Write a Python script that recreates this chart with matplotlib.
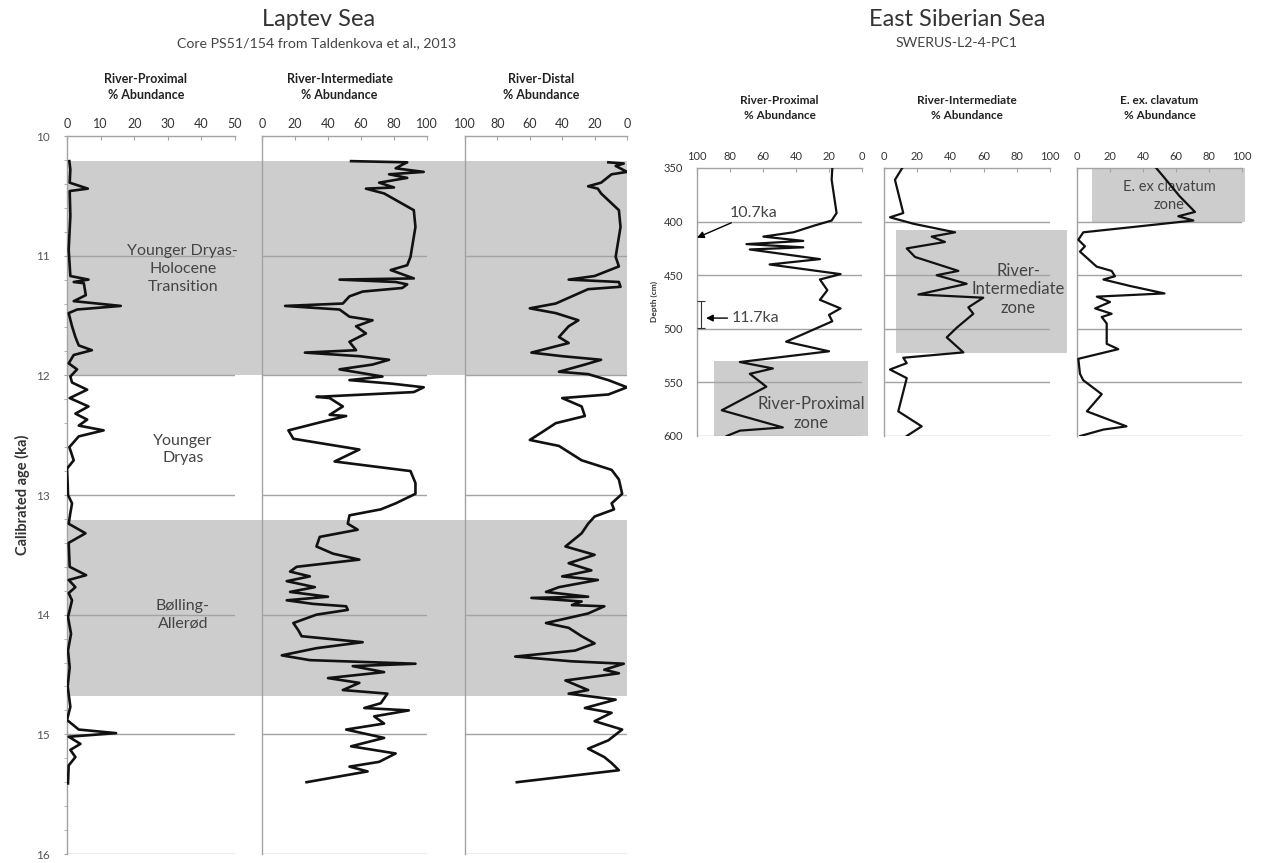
import matplotlib.pyplot as plt
import numpy as np

plt.rcParams['font.family'] = ['Lato', 'DejaVu Sans']

# ---- Laptev Sea, core PS51/154 (age in ka, % abundance) ----
prox_age = [10.21, 10.28, 10.39, 10.44, 10.46, 10.67, 10.95, 11.17, 11.20, 11.22, 11.23, 11.33,
            11.38, 11.42, 11.45, 11.48, 11.59, 11.68, 11.75, 11.79, 11.83, 11.90, 11.95, 12.01,
            12.06, 12.12, 12.19, 12.26, 12.32, 12.37, 12.42, 12.46, 12.51, 12.60, 12.71, 12.78,
            12.90, 13.00, 13.07, 13.15, 13.24, 13.32, 13.40, 13.60, 13.67, 13.71, 13.77, 13.82,
            13.88, 14.02, 14.16, 14.30, 14.44, 14.60, 14.77, 14.88, 14.96, 14.99, 15.02, 15.08,
            15.13, 15.19, 15.26, 15.41]
prox_val = [0.7, 1.0, 0.8, 6.2, 0.8, 1.0, 0.5, 1.0, 6.4, 2.0, 5.0, 5.6,
            2.0, 16.0, 3.0, 0.5, 1.5, 2.5, 3.5, 7.4, 2.0, 0.5, 3.0, 1.0,
            1.5, 6.0, 0.8, 6.4, 2.5, 6.0, 3.5, 10.9, 3.5, 0.7, 2.0, 0.0,
            0.2, 0.3, 1.5, 1.0, 0.5, 5.5, 0.5, 0.8, 5.7, 0.5, 2.5, 0.5,
            1.5, 0.3, 1.2, 0.3, 0.8, 0.2, 1.0, 0.0, 3.5, 14.6, 0.5, 4.0,
            1.0, 2.5, 0.5, 0.3]

inter_age = [10.21, 10.22, 10.24, 10.27, 10.30, 10.32, 10.35, 10.39, 10.43, 10.44, 10.48, 10.62,
             10.76, 11.01, 11.08, 11.12, 11.19, 11.20, 11.22, 11.24, 11.27, 11.30, 11.34, 11.40,
             11.42, 11.45, 11.51, 11.54, 11.59, 11.65, 11.72, 11.79, 11.81, 11.84, 11.87, 11.91,
             11.95, 12.01, 12.04, 12.07, 12.10, 12.14, 12.18, 12.19, 12.26, 12.33, 12.34, 12.39,
             12.46, 12.53, 12.62, 12.72, 12.80, 12.90, 12.99, 13.07, 13.12, 13.17, 13.24, 13.29,
             13.35, 13.43, 13.49, 13.54, 13.60, 13.64, 13.68, 13.72, 13.77, 13.81, 13.85, 13.88,
             13.91, 13.93, 13.96, 14.00, 14.07, 14.13, 14.18, 14.23, 14.28, 14.34, 14.38, 14.41,
             14.43, 14.48, 14.53, 14.57, 14.63, 14.66, 14.74, 14.78, 14.80, 14.85, 14.91, 14.96,
             15.03, 15.10, 15.16, 15.23, 15.27, 15.31, 15.40]
inter_val = [54, 88, 85, 81, 98, 77, 88, 71, 80, 63, 74, 92,
             93, 90, 88, 78, 92, 47, 81, 88, 85, 61, 53, 49,
             14, 47, 53, 67, 57, 63, 53, 57, 26, 59, 77, 67,
             47, 73, 53, 79, 98, 92, 33, 41, 49, 41, 51, 36,
             16, 19, 59, 44, 90, 93, 93, 81, 72, 53, 52, 58,
             35, 33, 43, 59, 21, 17, 29, 15, 32, 17, 40, 15,
             31, 51, 52, 33, 19, 22, 24, 61, 33, 12, 29, 93,
             55, 74, 40, 59, 49, 76, 72, 62, 89, 68, 74, 51,
             74, 54, 81, 71, 53, 64, 27]

distal_age = [10.22, 10.23, 10.25, 10.30, 10.32, 10.39, 10.42, 10.44, 10.48, 10.62, 10.76, 11.01,
              11.09, 11.17, 11.20, 11.22, 11.26, 11.28, 11.34, 11.40, 11.44, 11.48, 11.54, 11.59,
              11.68, 11.73, 11.81, 11.84, 11.87, 11.91, 11.97, 11.99, 12.04, 12.10, 12.16, 12.19,
              12.26, 12.34, 12.40, 12.48, 12.54, 12.59, 12.71, 12.79, 12.87, 12.99, 13.07, 13.12,
              13.18, 13.24, 13.32, 13.43, 13.50, 13.57, 13.63, 13.68, 13.71, 13.77, 13.81, 13.85,
              13.86, 13.89, 13.92, 13.93, 13.99, 14.07, 14.11, 14.18, 14.24, 14.30, 14.35, 14.39,
              14.41, 14.46, 14.49, 14.55, 14.63, 14.66, 14.71, 14.78, 14.82, 14.89, 14.96, 15.05,
              15.12, 15.19, 15.24, 15.30, 15.40]
distal_val = [11.5, 2, 7, 0, 9.5, 16, 24, 18, 16, 5, 4, 7,
              5, 20, 36, 5, 4, 24, 34, 44, 60, 44, 30, 36,
              42, 36, 59, 40, 16, 26, 42, 24, 11.5, 0, 11.5, 40,
              28, 26, 44, 53, 60, 42, 28, 9.5, 5, 3, 9.5, 8,
              20, 24, 28, 38, 20, 36, 22, 40, 18, 42, 50, 24,
              59, 28, 34, 14, 24, 50, 36, 28, 20, 32, 69, 34,
              2, 14, 5, 38, 24, 36, 7, 26, 9.5, 20, 3, 11.5,
              24, 14, 9.5, 5, 68]

# ---- East Siberian Sea, SWERUS-L2-4-PC1 (depth in cm, % abundance) ----
esp_depth = [350, 361, 392, 399, 404, 410, 414, 418, 421, 424, 426, 435, 440, 449, 454,
             464, 473, 481, 487, 493, 512, 521, 531, 537, 542, 554, 576, 592, 595, 600]
esp_val = [18, 18.4, 15.4, 18.4, 29.5, 41.6, 59.8, 35.6, 70, 35.6, 68, 25.5, 56, 13, 25.5,
           21, 25.5, 13, 20, 18, 46, 20, 74, 54, 68, 58, 85, 48, 74, 82]

esi_depth = [350, 361, 392, 396, 402, 410, 414, 419, 425, 433, 446, 450, 458, 468, 471,
             480, 486, 499, 508, 522, 527, 532, 538, 546, 577, 591, 600]
esi_val = [11, 6.6, 11.6, 3.6, 17.7, 42.8, 28.7, 36.7, 13.7, 18.7, 44.8, 31.7, 49.8, 20.7, 59.8,
           50.8, 53.8, 43.8, 37.8, 47.8, 11.6, 13.7, 3.6, 13.7, 8.6, 22.7, 13.7]

clav_depth = [350, 361, 376, 391, 395, 399, 404, 410, 417, 423, 428, 442, 446, 451, 454, 460,
              467, 470, 475, 481, 486, 489, 495, 514, 519, 528, 542, 548, 561, 577, 591, 594, 600]
clav_val = [48, 54, 62, 71.5, 61.4, 70.5, 40.2, 3.8, 0.8, 4.8, 1.8, 11.9, 21, 23, 16, 32,
            53, 12, 20, 11, 21, 15, 18, 18, 25, 0.8, 1.8, 3.8, 15, 6, 30, 16, 2]

# shaded intervals and their labels
laptev_zones = [(10.21, 12.0), (13.21, 14.68)]
laptev_zone_text = [("Younger Dryas-\nHolocene\nTransition", 11.11),
                    ("Younger\nDryas", 12.62),
                    ("Bølling-\nAllerød", 14.0)]

W, H = 1268, 863
GRID = '#a3a3a3'
SHADE = '#cdcdcd'
LINE = '#111111'
TXT = '#444444'


def box(x0, y0, x1, y1):
    return [x0 / W, 1 - y1 / H, (x1 - x0) / W, (y1 - y0) / H]


def style_panel(ax, xlim, xticks, ylim, grid_y, fs):
    ax.set_xlim(*xlim)
    ax.set_ylim(*ylim)
    ax.patch.set_alpha(0)
    for s in ('right', 'bottom'):
        ax.spines[s].set_visible(False)
    for s in ('left', 'top'):
        ax.spines[s].set_color(GRID)
        ax.spines[s].set_linewidth(1)
    ax.xaxis.tick_top()
    ax.set_xticks(xticks)
    ax.tick_params(axis='x', direction='in', length=3, color=GRID, labelsize=fs,
                   labelcolor='#333333', pad=4)
    ax.set_yticks([])
    for g in grid_y:
        ax.axhline(g, color=GRID, lw=1, zorder=1)


fig = plt.figure(figsize=(12.68, 8.63), dpi=100)

# Laptev Sea shading spans all three panels
bg = fig.add_axes(box(67, 136, 627, 854))
bg.set_ylim(16, 10)
bg.axis('off')
for top, bot in laptev_zones:
    bg.axhspan(top, bot, color=SHADE, lw=0)

lap_grid = [11, 12, 13, 14, 15, 16]
ax1 = fig.add_axes(box(67, 136, 235, 854))
style_panel(ax1, (0, 50), range(0, 51, 10), (16, 10), lap_grid, 9)
ax1.plot(prox_val, prox_age, color=LINE, lw=1.9, zorder=3)
ax1.set_yticks(range(10, 17))
ax1.set_yticks(np.arange(10, 16.01, 0.2), minor=True)
ax1.tick_params(axis='y', which='both', direction='out', length=2.5, color=GRID,
                labelsize=8.5, labelcolor='#555555', pad=10)
for label, y in laptev_zone_text:
    ax1.text(34.5, y, label, ha='center', va='center', fontsize=11.5, color=TXT,
             linespacing=1.35, zorder=4)

ax2 = fig.add_axes(box(262, 136, 427, 854))
style_panel(ax2, (0, 100), range(0, 101, 20), (16, 10), lap_grid, 9)
ax2.plot(inter_val, inter_age, color=LINE, lw=1.9, zorder=3)

ax3 = fig.add_axes(box(465, 136, 627, 854))
style_panel(ax3, (100, 0), range(100, -1, -20), (16, 10), lap_grid, 9)
ax3.plot(distal_val, distal_age, color=LINE, lw=1.9, zorder=3)

for ax, head in ((ax1, "River-Proximal\n% Abundance"),
                 (ax2, "River-Intermediate\n% Abundance"),
                 (ax3, "River-Distal\n% Abundance")):
    ax.text(0.47, 1.068, head, transform=ax.transAxes, ha='center', va='center',
            fontsize=9, fontweight='bold', color='#222222', linespacing=1.45)

fig.text(22 / W, 1 - 495 / H, "Calibrated age (ka)", rotation=90, ha='center', va='center',
         fontsize=10.5, fontweight='bold', color='#333333')
fig.text(319 / W, 1 - 19 / H, "Laptev Sea", ha='center', va='center', fontsize=17, color='#333333')
fig.text(317 / W, 1 - 43 / H, "Core PS51/154 from Taldenkova et al., 2013", ha='center',
         va='center', fontsize=10.2, color='#444444')

# ---- East Siberian Sea panels ----
es_grid = [400, 450, 500, 550, 600]
r1 = fig.add_axes(box(697, 168, 862, 436))
style_panel(r1, (100, 0), range(100, -1, -20), (600, 350), es_grid, 8)
r1.fill_betweenx([530, 600], 90, -3.5, color=SHADE, lw=0, zorder=0, clip_on=False)
r1.plot(esp_val, esp_depth, color=LINE, lw=1.6, zorder=3)
r1.set_yticks(range(350, 601, 50))
r1.tick_params(axis='y', length=0, labelsize=8, labelcolor='#333333', pad=10)
r1.set_ylabel("Depth (cm)", fontsize=6, fontweight='bold', color='#333333', labelpad=4)
r1.text(31, 579, "River-Proximal\nzone", ha='center', va='center', fontsize=12, color=TXT,
        linespacing=1.2, zorder=4, clip_on=False)
r1.annotate("10.7ka", xy=(100, 415), xytext=(80, 392), ha='left', va='center', fontsize=11.5,
            color=TXT, annotation_clip=False,
            arrowprops=dict(arrowstyle='-|>', color='black', lw=1, shrinkA=0, shrinkB=0,
                            mutation_scale=10))
r1.annotate("11.7ka", xy=(94.5, 490), xytext=(79, 490), ha='left', va='center', fontsize=11.5,
            color=TXT, annotation_clip=False,
            arrowprops=dict(arrowstyle='-|>', color='black', lw=1, shrinkA=1, shrinkB=0,
                            mutation_scale=10))
r1.errorbar([97.5], [486.5], yerr=[12.5], color='#333333', lw=0.8, capsize=3, capthick=0.8,
            clip_on=False, zorder=4)

r2 = fig.add_axes(box(884, 168, 1050, 436))
style_panel(r2, (0, 100), range(0, 101, 20), (600, 350), es_grid, 8)
r2.fill_betweenx([408, 523], 7, 110, color=SHADE, lw=0, zorder=0, clip_on=False)
r2.plot(esi_val, esi_depth, color=LINE, lw=1.6, zorder=3)
r2.text(81, 463, "River-\nIntermediate\nzone", ha='center', va='center', fontsize=12,
        color=TXT, linespacing=1.2, zorder=4, clip_on=False)

r3 = fig.add_axes(box(1077, 168, 1242, 436))
style_panel(r3, (0, 100), range(0, 101, 20), (600, 350), es_grid, 8)
r3.fill_betweenx([350, 400], 9, 102, color=SHADE, lw=0, zorder=0, clip_on=False)
r3.plot(clav_val, clav_depth, color=LINE, lw=1.6, zorder=3)
r3.text(56, 376, "E. ex clavatum\nzone", ha='center', va='center', fontsize=10.5,
        color=TXT, linespacing=1.3, zorder=2)

for ax, head in ((r1, "River-Proximal\n% Abundance"),
                 (r2, "River-Intermediate\n% Abundance"),
                 (r3, "E. ex. clavatum\n% Abundance")):
    ax.text(0.5, 1.225, head, transform=ax.transAxes, ha='center', va='center',
            fontsize=8.5, fontweight='bold', color='#222222', linespacing=1.45)

fig.text(957 / W, 1 - 19 / H, "East Siberian Sea", ha='center', va='center', fontsize=17,
         color='#333333')
fig.text(957 / W, 1 - 43 / H, "SWERUS-L2-4-PC1", ha='center', va='center', fontsize=10.2,
         color='#444444')

fig.savefig('out.png', dpi=100)
